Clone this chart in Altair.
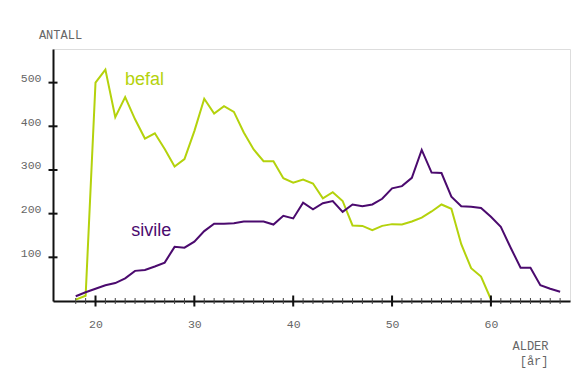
import altair as alt
import pandas as pd

# ---- data ----
ages = list(range(18, 68))
befal = [3, 12, 500, 530, 421, 467, 416, 372, 384, 348,
         308, 325, 389, 463, 429, 446, 433, 386, 347, 320,
         320, 281, 271, 278, 269, 235, 249, 229, 173, 172,
         162, 172, 176, 175, 182, 191, 205, 221, 211, 130,
         75, 56, 4]
sivile = [11, 20, 28, 36, 41, 52, 69, 71, 79, 88,
          124, 122, 136, 160, 177, 177, 178, 182, 182, 182,
          175, 195, 189, 225, 210, 224, 229, 204, 221, 217,
          221, 234, 258, 263, 282, 346, 294, 293, 239, 217,
          216, 213, 193, 170, 122, 76, 76, 36, 28, 21]

series_names = ["befal", "sivile"]
series_colors = ["#b4d20c", "#4b0a6e"]

label_names = ["befal", "sivile"]
label_age = [24.95, 25.65]
label_count = [494, 148]

x_label_values = [20, 30, 40, 50, 60]
x_minor_ticks = list(range(18, 68))
y_label_values = [100, 200, 300, 400, 500]

x_domain = [15.7, 68]
y_domain = [0, 577]

# ---- tables ----
rows = []
for a, v in zip(ages, befal):
    rows.append({"alder": a, "antall": v, "gruppe": "befal"})
for a, v in zip(ages, sivile):
    rows.append({"alder": a, "antall": v, "gruppe": "sivile"})
df = pd.DataFrame(rows)

labels_df = pd.DataFrame({"alder": label_age, "antall": label_count, "gruppe": label_names})
minor_df = pd.DataFrame({"alder": x_minor_ticks})
major_df = pd.DataFrame({"alder": x_label_values})
ytick_df = pd.DataFrame({"antall": y_label_values})

x_scale = alt.Scale(domain=x_domain, nice=False, zero=False)
y_scale = alt.Scale(domain=y_domain, nice=False, zero=False)
color_scale = alt.Scale(domain=series_names, range=series_colors)

mono = "Liberation Mono"
grey = "#666"

x_axis = alt.Axis(
    values=x_label_values, ticks=False, grid=False,
    domainColor="#111", domainWidth=2,
    labelFont=mono, labelFontSize=11.5, labelColor=grey, labelPadding=17,
    title=["ALDER", "[år]"], titleFont=mono, titleFontSize=12,
    titleFontWeight="normal", titleColor=grey,
    titleAlign="right", titleBaseline="top", titleX=495, titleY=39,
    titleLineHeight=15)
y_axis = alt.Axis(
    values=y_label_values, ticks=False, grid=False,
    domainColor="#111", domainWidth=2,
    labelFont=mono, labelFontSize=11.5, labelColor=grey, labelPadding=12,
    labelOffset=-4,
    title="ANTALL", titleFont=mono, titleFontSize=12,
    titleFontWeight="normal", titleColor=grey, titleAngle=0,
    titleAlign="center", titleBaseline="middle", titleX=7, titleY=-15)

X = lambda: alt.X("alder:Q", scale=x_scale, axis=x_axis, title=["ALDER", "[år]"])
Y = lambda: alt.Y("antall:Q", scale=y_scale, axis=y_axis, title="ANTALL")

lines = alt.Chart(df).mark_line(strokeWidth=2).encode(
    x=X(), y=Y(),
    color=alt.Color("gruppe:N", scale=color_scale, legend=None),
)

texts = alt.Chart(labels_df).mark_text(
    font="Liberation Sans", fontSize=18, align="center", baseline="alphabetic"
).encode(
    x=X(), y=Y(),
    text="gruppe:N",
    color=alt.Color("gruppe:N", scale=color_scale, legend=None),
)

minor = alt.Chart(minor_df).mark_tick(
    orient="vertical", size=6, thickness=1, color="#444", opacity=1
).encode(
    x=X(),
    y=alt.datum(0, scale=y_scale, axis=y_axis, title="ANTALL"),
)

major = alt.Chart(major_df).mark_tick(
    orient="vertical", size=11, thickness=2, color="#111", opacity=1
).encode(
    x=X(),
    y=alt.datum(0, scale=y_scale, axis=y_axis, title="ANTALL"),
)

yticks = alt.Chart(ytick_df).mark_tick(
    orient="horizontal", size=9, thickness=2, color="#111", opacity=1
).encode(
    x=alt.value(0),
    y=Y(),
)

chart = alt.layer(lines, texts, minor, major, yticks).properties(
    width=517, height=252,
    autosize=alt.AutoSizeParams(type="none"),
    padding={"left": 45, "top": 41, "right": 2, "bottom": 68},
).configure_view(strokeWidth=0).configure(background="white")

chart.save("out.html", embed_options={"renderer": "svg", "actions": False})
